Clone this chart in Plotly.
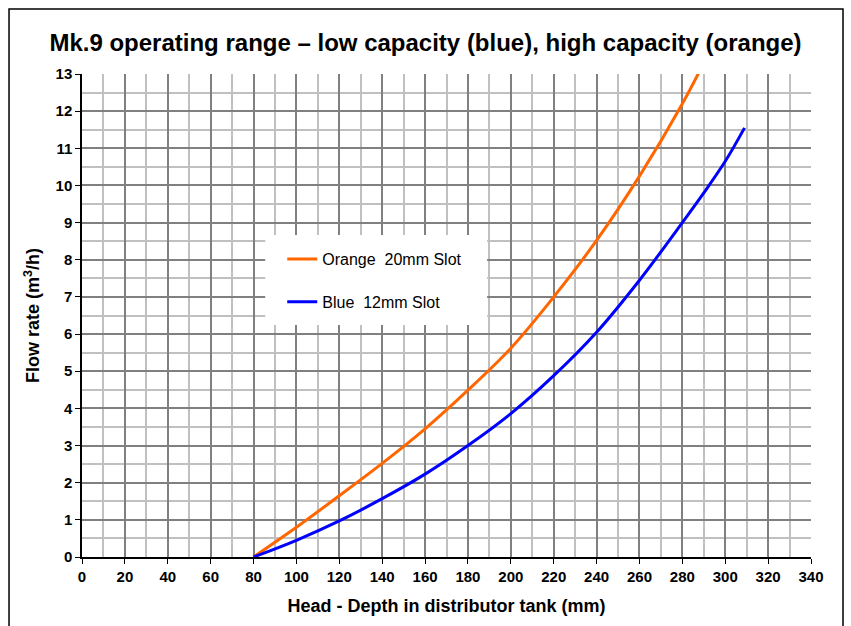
import plotly.graph_objects as go

# ---- data ----
orange_head = [80, 100, 120, 140, 160, 180, 200, 220, 240, 260, 280, 290]
orange_flow = [0, 0.80, 1.65, 2.52, 3.45, 4.49, 5.62, 7.0, 8.52, 10.25, 12.2, 13.3]

blue_head = [80, 100, 120, 140, 160, 180, 200, 220, 240, 260, 280, 290, 300, 309]
blue_flow = [0, 0.45, 0.97, 1.57, 2.23, 3.0, 3.86, 4.88, 6.05, 7.45, 9.0, 9.8, 10.65, 11.55]

orange_name = "Orange\u00a0 20mm Slot"
blue_name = "Blue\u00a0 12mm Slot"

title_text = "Mk.9 operating range \u2013 low capacity (blue), high capacity (orange)"
x_title = "Head - Depth in distributor tank (mm)"
y_title = "Flow rate (m<sup>3</sup>/h)"

FONT = "Liberation Sans, Arial, sans-serif"

fig = go.Figure()
fig.add_trace(go.Scatter(x=orange_head, y=orange_flow, mode="lines", name=orange_name,
                         legendgroup="o", line=dict(color="#FF6600", width=3, shape="spline", smoothing=1.0)))
fig.add_trace(go.Scatter(x=blue_head, y=blue_flow, mode="lines", name=blue_name,
                         legendgroup="b", line=dict(color="#0000FF", width=3, shape="spline", smoothing=1.0)))

axis_common = dict(
    showgrid=True, gridcolor="#808080", gridwidth=1.5,
    showline=True, linecolor="black", linewidth=1.5,
    ticks="outside", ticklen=5, tickcolor="black", tickwidth=1,
    zeroline=False,
    tickfont=dict(family=FONT, size=15, color="black", weight="bold"),
)

fig.update_xaxes(range=[0, 340], tick0=0, dtick=20,
                 minor=dict(dtick=10, showgrid=True, gridcolor="#c0c0c0", gridwidth=1.5, ticks=""),
                 title=dict(text=x_title, font=dict(family=FONT, size=18, color="black", weight="bold"), standoff=16),
                 **axis_common)
fig.update_yaxes(range=[0, 13], tick0=0, dtick=1,
                 minor=dict(dtick=0.5, showgrid=True, gridcolor="#c0c0c0", gridwidth=1.5, ticks=""),
                 title=dict(text=y_title, font=dict(family=FONT, size=18, color="black", weight="bold"), standoff=11),
                 **axis_common)

shapes = [
    # outer chart border
    dict(type="rect", xref="paper", yref="paper", x0=-0.1001, x1=1.0439, y0=-0.2, y1=1.1346,
         line=dict(color="black", width=1.5), fillcolor="rgba(0,0,0,0)", layer="above"),
    # legend white background box
    dict(type="rect", xref="x domain", yref="y domain", x0=0.2513, x1=0.5557, y0=0.4803, y1=0.6669,
         line=dict(width=0), fillcolor="white", layer="above"),
]

fig.update_layout(
    width=851, height=626,
    margin=dict(l=82, r=40, t=74, b=69, autoexpand=False),
    paper_bgcolor="white", plot_bgcolor="white",
    font=dict(family=FONT, color="black"),
    title=dict(text=title_text, x=0.5, xref="container", xanchor="center",
               y=1 - 43 / 626, yref="container", yanchor="middle",
               font=dict(family=FONT, size=24, color="black", weight="bold")),
    showlegend=True,
    legend=dict(x=0.2747, y=0.652, xanchor="left", yanchor="top",
                bgcolor="rgba(0,0,0,0)", borderwidth=0,
                traceorder="grouped", tracegroupgap=19,
                font=dict(family=FONT, size=16, color="black")),
    shapes=shapes,
)

fig.write_html("out.html", config={"displayModeBar": False},
               post_script="document.body.style.margin='0px';")
